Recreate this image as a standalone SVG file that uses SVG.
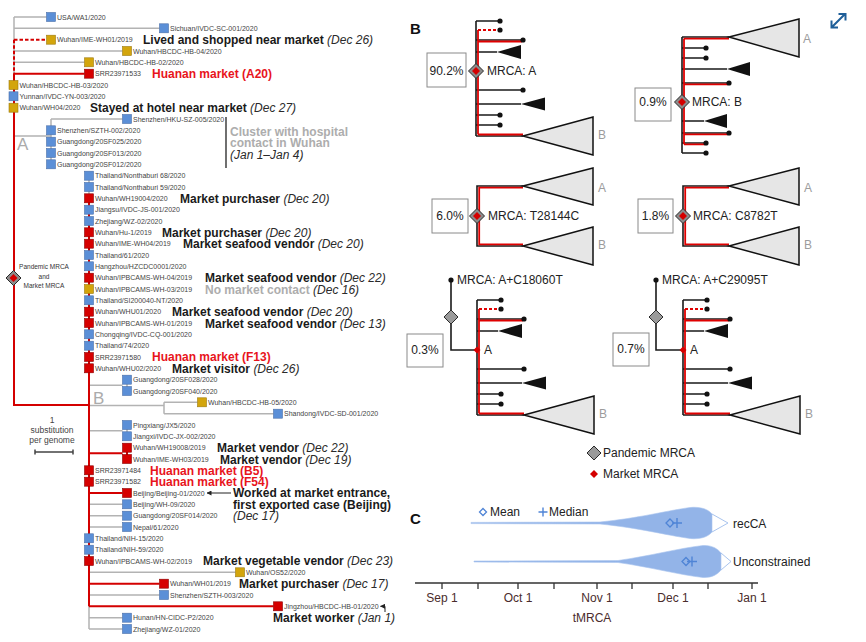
<svg xmlns="http://www.w3.org/2000/svg" xmlns:xlink="http://www.w3.org/1999/xlink" width="866" height="642" viewBox="0 0 866 642">
<style>
text{font-family:"Liberation Sans",Arial,sans-serif}
.t{font-size:7px;fill:#444}
.ann{font-size:12px;font-weight:bold;fill:#1a1a1a}
.it{font-style:italic;font-weight:normal;fill:#2a2a2a}
.hm{fill:#e8141c}
.gy{fill:#adadad}
.lab{font-size:12px;fill:#222}
.ab{font-size:12px;fill:#9c9c9c}
.sqb{fill:#5b8fd7;stroke:#4a6fa8;stroke-width:.6}
.sqy{fill:#d3a50c;stroke:#9c7a10;stroke-width:.6}
.sqr{fill:#d60000;stroke:#8a0000;stroke-width:.6}
.g{stroke:#b3b3b3;stroke-width:1.5;fill:none}
.r{stroke:#d40000;stroke-width:2;fill:none}
.k{stroke:#1a1a1a;stroke-width:1.6;fill:none}
.rb{stroke:#e00000;stroke-width:1.8;fill:none}
.box{fill:#fff;stroke:#8a8a8a;stroke-width:1}
.dot{fill:#111}
.tri{fill:#111}
.big{fill:#e6e6e6;stroke:#111;stroke-width:1.5}
.ax{font-size:12px;fill:#4a2c2c}
</style>
<defs>
<marker id="ah" viewBox="0 0 10 10" refX="9" refY="5" markerWidth="5" markerHeight="5" orient="auto"><path d="M0,0 L10,5 L0,10z" fill="#222"/></marker>
<g id="dm"><path d="M0,-7.5 L7.5,0 L0,7.5 L-7.5,0Z" fill="#8c8c8c" stroke="#2a2a2a" stroke-width="1"/><path d="M0,-4 L4,0 L0,4 L-4,0Z" fill="#d40000"/></g>
<g id="cladeA">
<path class="k" d="M0,-50 V65 M0,-50 H24 M0,-31 H47 M0,-19 H21 M0,19 H47 M0,33 H45 M0,44 H24 M0,54 H24 M0,65 H47"/>
<path class="rb" d="M2,-41 V63.5 M2,-29.5 H46 M2,63.5 H47"/>
<path class="rb" stroke-dasharray="3,2" d="M2,-41 H21"/>
<circle class="dot" cx="24" cy="-50" r="2.6"/><circle class="dot" cx="24" cy="-41" r="2.6"/><circle class="dot" cx="47" cy="-31" r="2.6"/><circle class="dot" cx="47" cy="19" r="2.6"/><circle class="dot" cx="24" cy="44" r="2.6"/><circle class="dot" cx="24" cy="54" r="2.6"/>
<polygon class="tri" points="21,-19 45,-26 45,-12"/>
<polygon class="tri" points="45,33 69,26.5 69,39.5"/>
<polygon class="big" points="47,65 117,46 117,84"/>
<text class="ab" x="122" y="68">B</text>
</g>
<g id="cladeSplit">
<path class="k" d="M46,-30 H0 V30 H46"/>
<path class="rb" d="M46,-28.4 H2.2 V28.4 H46"/>
<polygon class="big" points="46,-30 116,-48 116,-11"/>
<polygon class="big" points="46,30 116,11 116,49"/>
<text class="ab" x="121" y="-24">A</text>
<text class="ab" x="121" y="33">B</text>
</g>
</defs>
<rect width="866" height="642" fill="#fff"/>

<!-- ===== Panel A tree connectors ===== -->
<g id="tree-connectors">
<path class="g" d="M14,17 V405 M14,17 H46.5 M14,28.3 H159.5 M14,51 H122.5 M14,62.3 H84.5 M14,136 H51 M51,119 V164.3 M51,119 H122.5 M89,175.7 V629 M89,385.3 H122.5 M127,379.7 V391 M89,405.5 H164 M164,402.3 V413.7 M164,402.3 H197.5 M164,413.7 H273.5 M89,430.7 H122.5 M127,425 V436.3 M89,504.3 H122.5 M89,515.7 H122.5 M89,527 H122.5 M89,572.3 H235.5 M89,595 H159.5 M89,617.7 H122.5 M89,629 H122.5"/>
<path class="r" stroke-dasharray="3.5,2" d="M14,39.7 H46.5 M14,39.7 V73.7"/>
<path class="r" d="M14,73.7 H84.5 M14,73.7 V405 H89 M89,198.3 V606.3 M89,453.3 H122.5 M127,447.7 V459 M89,493 H122.5 M89,583.7 H159.5 M89,606.3 H273.5"/>
<path d="M231,493 H207" stroke="#222" stroke-width="1" marker-end="url(#ah)"/>
<path d="M385,612 V606.3 H380.5" stroke="#222" stroke-width="1" fill="none" marker-end="url(#ah)"/>
</g>

<g id="clade-labels">
<text x="17" y="150" font-size="17" fill="#ababab">A</text>
<text x="93" y="404" font-size="17" fill="#ababab">B</text>
</g>

<g id="pandemic-mrca-tree">
<use href="#dm" x="13.5" y="278"/>
<text x="44" y="269" font-size="6.5" fill="#333" text-anchor="middle">Pandemic MRCA</text>
<text x="44" y="278.5" font-size="6.5" fill="#333" text-anchor="middle">and</text>
<text x="44" y="288" font-size="6.5" fill="#333" text-anchor="middle">Market MRCA</text>
</g>

<g id="scale-bar">
<text x="52" y="423" font-size="8.5" fill="#444" text-anchor="middle">1</text>
<text x="52" y="433" font-size="8.5" fill="#444" text-anchor="middle">substitution</text>
<text x="52" y="443" font-size="8.5" fill="#444" text-anchor="middle">per genome</text>
<path d="M35,452 H73 M35,449.5 V454.5 M73,449.5 V454.5" stroke="#444" stroke-width="1.5" fill="none"/>
</g>

<!-- ===== tips ===== -->
<g id="tip00"><rect class="sqb" x="46.5" y="12.5" width="9" height="9"/><text class="t" x="57" y="19.5">USA/WA1/2020</text></g>
<g id="tip01"><rect class="sqb" x="159.5" y="23.8" width="9" height="9"/><text class="t" x="170" y="30.8">Sichuan/IVDC-SC-001/2020</text></g>
<g id="tip02"><rect class="sqy" x="46.5" y="35.2" width="9" height="9"/><text class="t" x="57" y="42.2">Wuhan/IME-WH01/2019</text></g>
<g id="tip03"><rect class="sqy" x="122.5" y="46.5" width="9" height="9"/><text class="t" x="133" y="53.5">Wuhan/HBCDC-HB-04/2020</text></g>
<g id="tip04"><rect class="sqy" x="84.5" y="57.8" width="9" height="9"/><text class="t" x="95" y="64.8">Wuhan/HBCDC-HB-02/2020</text></g>
<g id="tip05"><rect class="sqr" x="84.5" y="69.2" width="9" height="9"/><text class="t" x="95" y="76.2">SRR23971533</text></g>
<g id="tip06"><rect class="sqy" x="9" y="80.5" width="9" height="9"/><text class="t" x="19.5" y="87.5">Wuhan/HBCDC-HB-03/2020</text></g>
<g id="tip07"><rect class="sqb" x="9" y="91.8" width="9" height="9"/><text class="t" x="19.5" y="98.8">Yunnan/IVDC-YN-003/2020</text></g>
<g id="tip08"><rect class="sqy" x="9" y="103.2" width="9" height="9"/><text class="t" x="19.5" y="110.2">Wuhan/WH04/2020</text></g>
<g id="tip09"><rect class="sqb" x="122.5" y="114.5" width="9" height="9"/><text class="t" x="133" y="121.5">Shenzhen/HKU-SZ-005/2020</text></g>
<g id="tip10"><rect class="sqb" x="46.5" y="125.8" width="9" height="9"/><text class="t" x="57" y="132.8">Shenzhen/SZTH-002/2020</text></g>
<g id="tip11"><rect class="sqb" x="46.5" y="137.2" width="9" height="9"/><text class="t" x="57" y="144.2">Guangdong/20SF025/2020</text></g>
<g id="tip12"><rect class="sqb" x="46.5" y="148.5" width="9" height="9"/><text class="t" x="57" y="155.5">Guangdong/20SF013/2020</text></g>
<g id="tip13"><rect class="sqb" x="46.5" y="159.8" width="9" height="9"/><text class="t" x="57" y="166.8">Guangdong/20SF012/2020</text></g>
<g id="tip14"><rect class="sqb" x="84.5" y="171.2" width="9" height="9"/><text class="t" x="95" y="178.2">Thailand/Nonthaburi 68/2020</text></g>
<g id="tip15"><rect class="sqb" x="84.5" y="182.5" width="9" height="9"/><text class="t" x="95" y="189.5">Thailand/Nonthaburi 59/2020</text></g>
<g id="tip16"><rect class="sqr" x="84.5" y="193.8" width="9" height="9"/><text class="t" x="95" y="200.8">Wuhan/WH19004/2020</text></g>
<g id="tip17"><rect class="sqb" x="84.5" y="205.2" width="9" height="9"/><text class="t" x="95" y="212.2">Jiangsu/IVDC-JS-001/2020</text></g>
<g id="tip18"><rect class="sqb" x="84.5" y="216.5" width="9" height="9"/><text class="t" x="95" y="223.5">Zhejiang/WZ-02/2020</text></g>
<g id="tip19"><rect class="sqr" x="84.5" y="227.8" width="9" height="9"/><text class="t" x="95" y="234.8">Wuhan/Hu-1/2019</text></g>
<g id="tip20"><rect class="sqr" x="84.5" y="239.2" width="9" height="9"/><text class="t" x="95" y="246.2">Wuhan/IME-WH04/2019</text></g>
<g id="tip21"><rect class="sqb" x="84.5" y="250.5" width="9" height="9"/><text class="t" x="95" y="257.5">Thailand/61/2020</text></g>
<g id="tip22"><rect class="sqb" x="84.5" y="261.8" width="9" height="9"/><text class="t" x="95" y="268.8">Hangzhou/HZCDC0001/2020</text></g>
<g id="tip23"><rect class="sqr" x="84.5" y="273.2" width="9" height="9"/><text class="t" x="95" y="280.2">Wuhan/IPBCAMS-WH-04/2019</text></g>
<g id="tip24"><rect class="sqy" x="84.5" y="284.5" width="9" height="9"/><text class="t" x="95" y="291.5">Wuhan/IPBCAMS-WH-03/2019</text></g>
<g id="tip25"><rect class="sqb" x="84.5" y="295.8" width="9" height="9"/><text class="t" x="95" y="302.8">Thailand/SI200040-NT/2020</text></g>
<g id="tip26"><rect class="sqr" x="84.5" y="307.2" width="9" height="9"/><text class="t" x="95" y="314.2">Wuhan/WHU01/2020</text></g>
<g id="tip27"><rect class="sqr" x="84.5" y="318.5" width="9" height="9"/><text class="t" x="95" y="325.5">Wuhan/IPBCAMS-WH-01/2019</text></g>
<g id="tip28"><rect class="sqb" x="84.5" y="329.8" width="9" height="9"/><text class="t" x="95" y="336.8">Chongqing/IVDC-CQ-001/2020</text></g>
<g id="tip29"><rect class="sqb" x="84.5" y="341.2" width="9" height="9"/><text class="t" x="95" y="348.2">Thailand/74/2020</text></g>
<g id="tip30"><rect class="sqr" x="84.5" y="352.5" width="9" height="9"/><text class="t" x="95" y="359.5">SRR23971580</text></g>
<g id="tip31"><rect class="sqr" x="84.5" y="363.8" width="9" height="9"/><text class="t" x="95" y="370.8">Wuhan/WHU02/2020</text></g>
<g id="tip32"><rect class="sqb" x="122.5" y="375.2" width="9" height="9"/><text class="t" x="133" y="382.2">Guangdong/20SF028/2020</text></g>
<g id="tip33"><rect class="sqb" x="122.5" y="386.5" width="9" height="9"/><text class="t" x="133" y="393.5">Guangdong/20SF040/2020</text></g>
<g id="tip34"><rect class="sqy" x="197.5" y="397.8" width="9" height="9"/><text class="t" x="208" y="404.8">Wuhan/HBCDC-HB-05/2020</text></g>
<g id="tip35"><rect class="sqb" x="273.5" y="409.2" width="9" height="9"/><text class="t" x="284" y="416.2">Shandong/IVDC-SD-001/2020</text></g>
<g id="tip36"><rect class="sqb" x="122.5" y="420.5" width="9" height="9"/><text class="t" x="133" y="427.5">Pingxiang/JX5/2020</text></g>
<g id="tip37"><rect class="sqb" x="122.5" y="431.8" width="9" height="9"/><text class="t" x="133" y="438.8">Jiangxi/IVDC-JX-002/2020</text></g>
<g id="tip38"><rect class="sqr" x="122.5" y="443.2" width="9" height="9"/><text class="t" x="133" y="450.2">Wuhan/WH19008/2019</text></g>
<g id="tip39"><rect class="sqr" x="122.5" y="454.5" width="9" height="9"/><text class="t" x="133" y="461.5">Wuhan/IME-WH03/2019</text></g>
<g id="tip40"><rect class="sqr" x="84.5" y="465.8" width="9" height="9"/><text class="t" x="95" y="472.8">SRR23971484</text></g>
<g id="tip41"><rect class="sqr" x="84.5" y="477.2" width="9" height="9"/><text class="t" x="95" y="484.2">SRR23971582</text></g>
<g id="tip42"><rect class="sqr" x="122.5" y="488.5" width="9" height="9"/><text class="t" x="133" y="495.5">Beijing/Beijing-01/2020</text></g>
<g id="tip43"><rect class="sqb" x="122.5" y="499.8" width="9" height="9"/><text class="t" x="133" y="506.8">Beijing/WH-09/2020</text></g>
<g id="tip44"><rect class="sqb" x="122.5" y="511.2" width="9" height="9"/><text class="t" x="133" y="518.2">Guangdong/20SF014/2020</text></g>
<g id="tip45"><rect class="sqb" x="122.5" y="522.5" width="9" height="9"/><text class="t" x="133" y="529.5">Nepal/61/2020</text></g>
<g id="tip46"><rect class="sqb" x="84.5" y="533.8" width="9" height="9"/><text class="t" x="95" y="540.8">Thailand/NIH-15/2020</text></g>
<g id="tip47"><rect class="sqb" x="84.5" y="545.2" width="9" height="9"/><text class="t" x="95" y="552.2">Thailand/NIH-59/2020</text></g>
<g id="tip48"><rect class="sqr" x="84.5" y="556.5" width="9" height="9"/><text class="t" x="95" y="563.5">Wuhan/IPBCAMS-WH-02/2019</text></g>
<g id="tip49"><rect class="sqy" x="235.5" y="567.8" width="9" height="9"/><text class="t" x="246" y="574.8">Wuhan/OS52/2020</text></g>
<g id="tip50"><rect class="sqr" x="159.5" y="579.2" width="9" height="9"/><text class="t" x="170" y="586.2">Wuhan/WH01/2019</text></g>
<g id="tip51"><rect class="sqb" x="159.5" y="590.5" width="9" height="9"/><text class="t" x="170" y="597.5">Shenzhen/SZTH-003/2020</text></g>
<g id="tip52"><rect class="sqr" x="273.5" y="601.8" width="9" height="9"/><text class="t" x="284" y="608.8">Jingzhou/HBCDC-HB-01/2020</text></g>
<g id="tip53"><rect class="sqb" x="122.5" y="613.2" width="9" height="9"/><text class="t" x="133" y="620.2">Hunan/HN-CIDC-P2/2020</text></g>
<g id="tip54"><rect class="sqb" x="122.5" y="624.5" width="9" height="9"/><text class="t" x="133" y="631.5">Zhejiang/WZ-01/2020</text></g>

<!-- ===== annotations ===== -->
<g id="annotations">
<text class="ann" x="143" y="44">Lived and shopped near market <tspan class="it">(Dec 26)</tspan></text>
<text class="ann hm" x="152" y="78">Huanan market (A20)</text>
<text class="ann" x="90" y="112">Stayed at hotel near market <tspan class="it">(Dec 27)</tspan></text>
<path d="M226,117 V168" stroke="#222" stroke-width="1.3"/>
<text class="ann gy" x="230" y="135.5">Cluster with hospital</text>
<text class="ann gy" x="230" y="147">contact in Wuhan</text>
<text class="ann it" x="230" y="158.5">(Jan 1–Jan 4)</text>
<text class="ann" x="180" y="203">Market purchaser <tspan class="it">(Dec 20)</tspan></text>
<text class="ann" x="162" y="237">Market purchaser <tspan class="it">(Dec 20)</tspan></text>
<text class="ann" x="183" y="248">Market seafood vendor <tspan class="it">(Dec 20)</tspan></text>
<text class="ann" x="205" y="282">Market seafood vendor <tspan class="it">(Dec 22)</tspan></text>
<text class="ann" x="205" y="293.5"><tspan class="gy">No market contact</tspan> <tspan class="it">(Dec 16)</tspan></text>
<text class="ann" x="172" y="316">Market seafood vendor <tspan class="it">(Dec 20)</tspan></text>
<text class="ann" x="205" y="327.5">Market seafood vendor <tspan class="it">(Dec 13)</tspan></text>
<text class="ann hm" x="152" y="361">Huanan market (F13)</text>
<text class="ann" x="172" y="373">Market visitor <tspan class="it">(Dec 26)</tspan></text>
<text class="ann" x="217" y="452">Market vendor <tspan class="it">(Dec 22)</tspan></text>
<text class="ann" x="220" y="463.5">Market vendor <tspan class="it">(Dec 19)</tspan></text>
<text class="ann hm" x="150" y="475">Huanan market (B5)</text>
<text class="ann hm" x="150" y="486">Huanan market (F54)</text>
<text class="ann" x="233" y="497">Worked at market entrance,</text>
<text class="ann" x="233" y="508.5">first exported case (Beijing)</text>
<text class="ann it" x="233" y="520">(Dec 17)</text>
<text class="ann" x="203" y="565">Market vegetable vendor <tspan class="it">(Dec 23)</tspan></text>
<text class="ann" x="239" y="588">Market purchaser <tspan class="it">(Dec 17)</tspan></text>
<text class="ann" x="273" y="622">Market worker <tspan class="it">(Jan 1)</tspan></text>
</g>

<!-- ===== Panel B ===== -->
<text x="410" y="34" font-size="15" font-weight="bold" fill="#111">B</text>
<g id="expand-icon" stroke="#1f5f99" stroke-width="2" fill="none">
<path d="M832,27 L845,14 M838.5,14 H845.5 V20.5 M831.5,20.5 V27.5 H838"/>
</g>

<g id="b-mrcaA">
<use href="#cladeA" x="476" y="71"/>
<use href="#dm" x="476" y="71"/>
<text class="lab" x="487" y="75.3">MRCA: A</text>
<rect class="box" x="427" y="53" width="39" height="34"/>
<text class="lab" x="446.5" y="75.3" text-anchor="middle">90.2%</text>
</g>

<g id="b-mrcaB">
<g transform="translate(682,102)">
<path class="k" d="M0,-65 V51 M0,-65 H47 M0,-54 H24 M0,-44 H24 M0,-33 H45 M0,-19 H47 M0,19 H22 M0,31 H47 M0,41 H24 M0,51 H24"/>
<path class="rb" d="M2,-63.4 H47 M2,-63.4 V42.3 M2,-17.6 H46 M2,32.4 H46 M2,42.3 H23"/>
<circle class="dot" cx="24" cy="-54" r="2.6"/><circle class="dot" cx="24" cy="-44" r="2.6"/><circle class="dot" cx="47" cy="-19" r="2.6"/><circle class="dot" cx="47" cy="31" r="2.6"/><circle class="dot" cx="24" cy="41" r="2.6"/><circle class="dot" cx="24" cy="51" r="2.6"/>
<polygon class="tri" points="45,-33 68,-40 68,-26"/>
<polygon class="tri" points="22,19 45,12 45,26"/>
<polygon class="big" points="47,-65 117,-83 117,-45"/>
<text class="ab" x="121" y="-59">A</text>
</g>
<use href="#dm" x="682" y="102"/>
<text class="lab" x="692" y="106.3">MRCA: B</text>
<rect class="box" x="635" y="88" width="36" height="33"/>
<text class="lab" x="653" y="106.3" text-anchor="middle">0.9%</text>
</g>

<g id="b-T28144C">
<use href="#cladeSplit" x="477" y="216"/>
<use href="#dm" x="477" y="216"/>
<text class="lab" x="488" y="220.3">MRCA: T28144C</text>
<rect class="box" x="432" y="199" width="36" height="34"/>
<text class="lab" x="450" y="220.3" text-anchor="middle">6.0%</text>
</g>

<g id="b-C8782T">
<use href="#cladeSplit" x="683" y="216"/>
<use href="#dm" x="683" y="216"/>
<text class="lab" x="693" y="220.3">MRCA: C8782T</text>
<rect class="box" x="638" y="199" width="35" height="34"/>
<text class="lab" x="655.5" y="220.3" text-anchor="middle">1.8%</text>
</g>

<g id="b-C18060T">
<use href="#cladeA" x="477" y="350"/>
<path class="k" d="M451,280 V350 H477"/>
<circle class="dot" cx="451" cy="280" r="2.6"/>
<path d="M451,310 L458,317 L451,324 L444,317Z" fill="#9a9a9a" stroke="#2a2a2a" stroke-width="1"/>
<path d="M477,346.5 L480.5,350 L477,353.5 L473.5,350Z" fill="#d40000"/>
<text class="lab" x="457" y="284.3">MRCA: A+C18060T</text>
<text class="lab" x="484" y="354.3">A</text>
<rect class="box" x="407" y="334" width="36" height="33"/>
<text class="lab" x="425" y="354.3" text-anchor="middle">0.3%</text>
</g>

<g id="b-C29095T">
<use href="#cladeA" x="683" y="350"/>
<path class="k" d="M656,280 V350 H683"/>
<circle class="dot" cx="656" cy="280" r="2.6"/>
<path d="M656,310 L663,317 L656,324 L649,317Z" fill="#9a9a9a" stroke="#2a2a2a" stroke-width="1"/>
<path d="M683,346.5 L686.5,350 L683,353.5 L679.5,350Z" fill="#d40000"/>
<text class="lab" x="662" y="284.3">MRCA: A+C29095T</text>
<text class="lab" x="690" y="354.3">A</text>
<rect class="box" x="613" y="333" width="36" height="33"/>
<text class="lab" x="631" y="353.3" text-anchor="middle">0.7%</text>
</g>

<g id="b-legend">
<path d="M594,446 L601,453 L594,460 L587,453Z" fill="#9a9a9a" stroke="#2a2a2a" stroke-width="1"/>
<text class="lab" x="603" y="457.3">Pandemic MRCA</text>
<path d="M594,470 L598,474 L594,478 L590,474Z" fill="#d40000"/>
<text class="lab" x="603" y="478.3">Market MRCA</text>
</g>

<!-- ===== Panel C ===== -->
<text x="410" y="524" font-size="15" font-weight="bold" fill="#111">C</text>
<g id="c-legend">
<path d="M483,508.5 L486.5,512 L483,515.5 L479.5,512Z" fill="none" stroke="#4f84d6" stroke-width="1.3"/>
<text class="lab" x="490" y="516" fill="#333">Mean</text>
<path d="M543,507.5 V516.5 M538.5,512 H547.5" stroke="#4f84d6" stroke-width="1.4"/>
<text class="lab" x="549" y="516" fill="#333">Median</text>
</g>
<g id="c-recCA">
<path d="M471,522.4 L600,522 C640,518 665,511 690,507.5 C700,506.5 708,509 712,514 L712,532 C708,537 700,539.5 690,538.5 C665,535 640,528 600,524 L471,523.6 Z" fill="#93b4e8" stroke="#a9c4ee" stroke-width=".6"/>
<path d="M712,514 L728,523 L712,532" fill="none" stroke="#a9c4ee" stroke-width="1"/>
<path d="M670,519 L674,523 L670,527 L666,523Z" fill="none" stroke="#4f84d6" stroke-width="1.3"/>
<path d="M677,518 V528 M672,523 H682" stroke="#4f84d6" stroke-width="1.4"/>
<text class="lab" x="733" y="527.5">recCA</text>
</g>
<g id="c-unconstrained">
<path d="M474,561 L618,560.5 C650,556 680,548 703,545.5 C712,545 718,549 721,553 L721,570 C718,574 712,578 703,577.5 C680,575 650,567 618,562.5 L474,562 Z" fill="#93b4e8" stroke="#a9c4ee" stroke-width=".6"/>
<path d="M721,553 L731,561.5 L721,570" fill="none" stroke="#a9c4ee" stroke-width="1"/>
<path d="M686,557.5 L690,561.5 L686,565.5 L682,561.5Z" fill="none" stroke="#4f84d6" stroke-width="1.3"/>
<path d="M692,556.5 V566.5 M687,561.5 H697" stroke="#4f84d6" stroke-width="1.4"/>
<text class="lab" x="733" y="566">Unconstrained</text>
</g>
<g id="c-axis">
<path d="M415,583 H758 M442,583 V589 M478,583 V589 M518,583 V589 M554,583 V589 M597,583 V589 M632,583 V589 M673,583 V589 M708,583 V589 M752,583 V589" stroke="#333" stroke-width="1.3" fill="none"/>
<text class="ax" x="442" y="601.5" text-anchor="middle">Sep 1</text>
<text class="ax" x="518" y="601.5" text-anchor="middle">Oct 1</text>
<text class="ax" x="597" y="601.5" text-anchor="middle">Nov 1</text>
<text class="ax" x="673" y="601.5" text-anchor="middle">Dec 1</text>
<text class="ax" x="752" y="601.5" text-anchor="middle">Jan 1</text>
<text class="ax" x="592" y="621.5" text-anchor="middle">tMRCA</text>
</g>
</svg>
